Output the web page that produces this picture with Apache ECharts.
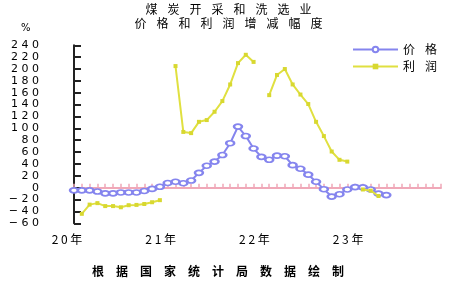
<!DOCTYPE html>
<html><head><meta charset="utf-8">
<script src="https://cdn.jsdelivr.net/npm/echarts@6/dist/echarts.min.js"></script>
<style>html,body{margin:0;padding:0;background:#fff}#c{width:470px;height:283px}</style>
</head><body><div id="c"></div>
<script>
const months = [
 '2020-01','2020-02','2020-03','2020-04','2020-05','2020-06','2020-07','2020-08','2020-09','2020-10','2020-11','2020-12',
 '2021-01','2021-02','2021-03','2021-04','2021-05','2021-06','2021-07','2021-08','2021-09','2021-10','2021-11','2021-12',
 '2022-01','2022-02','2022-03','2022-04','2022-05','2022-06','2022-07','2022-08','2022-09','2022-10','2022-11','2022-12',
 '2023-01','2023-02','2023-03','2023-04','2023-05','2023-06','2023-07','2023-08','2023-09','2023-10','2023-11','2023-12'];
const yearTicks = ['20年','21年','22年','23年'];
const price = [
 -4.5,-4.5,-4.5,-6.5,-9.5,-9.5,-8,-8,-8,-5.5,-2,1.5,
 8,10,7.5,12,25,37,44,55,75,103,87,66,
 52,47,54,53,38,32,22,10,-2.5,-15,-11,-3,
 1,0.5,-3,-10,-12.5];
const profit = [
 null,-44,-28.5,-26,-31,-31,-33,-29.5,-29,-27.5,-24.5,-21,
 null,205,94,92,111,114,128,146,174,210,224,212,
 null,156,190,200,174,157,141,111,87,61,47,44,
 null,-3,-5,-14];
const seriesNames = ['价格','利润'];
const titleLine1 = '煤炭开采和洗选业';
const titleLine2 = '价格和利润增减幅度';
const sourceText = '根据国家统计局数据绘制';

const CJK = 'Noto Sans CJK SC';
const sp = (s) => s.split('').join('{g|　}');
const Y_MIN = -60, Y_MAX = 240;
const GRID_TOP = 45.3, GRID_BOTTOM = 59.7, H = 283;
const plotH = H - GRID_TOP - GRID_BOTTOM;
const zeroFromBottom = H - (GRID_TOP + plotH * Y_MAX / (Y_MAX - Y_MIN));

const chart = echarts.init(document.getElementById('c'), null, {renderer:'canvas'});
chart.setOption({
  animation:false,
  backgroundColor:'#fff',
  title:[
    {text: sp(titleLine1), left:145.5, top:3, padding:0,
     textStyle:{fontSize:12, fontWeight:'normal', fontFamily:CJK, color:'#000', rich:{g:{fontSize:10}}}},
    {text: sp(titleLine2), left:134.5, top:17.5, padding:0,
     textStyle:{fontSize:12, fontWeight:'normal', fontFamily:CJK, color:'#000', rich:{g:{fontSize:10}}}},
    {text:'%', left:21, top:23, padding:0,
     textStyle:{fontSize:10, fontWeight:'normal', fontFamily:'DejaVu Sans', color:'#000'}},
    {text: sourceText.split('').join('{g|　}'), left:92, top:265, padding:0,
     textStyle:{fontSize:12, fontWeight:'bold', fontFamily:CJK, color:'#000', rich:{g:{fontSize:12}}}}
  ],
  legend:{
    orient:'vertical', left:352, top:43, padding:0,
    itemWidth:45, itemHeight:7, itemGap:4,
    data: seriesNames,
    formatter: n => sp(n),
    textStyle:{fontSize:12, fontFamily:CJK, color:'#000', lineHeight:13, rich:{g:{fontSize:10, lineHeight:13}}}
  },
  grid:[
    {left:74, right:29, top:GRID_TOP, bottom:GRID_BOTTOM, containLabel:false},
    {left:74, right:29, top:GRID_TOP, bottom:zeroFromBottom, containLabel:false}
  ],
  xAxis:[
    {type:'category', gridIndex:0, data:months, boundaryGap:false, position:'bottom',
     axisLine:{show:false, onZero:false}, axisTick:{show:false},
     axisLabel:{interval:(i)=> i%12===0, margin:10,
       formatter:(v,i)=> yearTicks[Math.floor(i/12)].split('').join(' '),
       fontSize:12, fontFamily:CJK, color:'#000', padding:[0,14,0,0]},
     splitLine:{show:false}},
    {type:'category', gridIndex:1, data:months, boundaryGap:false, position:'bottom',
     axisLine:{show:true, onZero:false, lineStyle:{color:'#f0a8b8', width:2}},
     axisTick:{show:true, inside:true, length:4, interval:0, lineStyle:{color:'#f0a8b8', width:1.5}},
     axisLabel:{show:false}, splitLine:{show:false}}
  ],
  yAxis:[
    {type:'value', gridIndex:0, min:Y_MIN, max:Y_MAX, interval:20,
    axisLine:{show:true, lineStyle:{color:'#222', width:2}},
    axisTick:{show:true, inside:true, length:7, lineStyle:{color:'#222', width:2}},
    axisLabel:{margin:35, fontSize:11, fontFamily:'DejaVu Sans', color:'#000',
      formatter:v=> String(v).replace('-', '−').split('').join(' ')},
    splitLine:{show:false}},
    {type:'value', gridIndex:1, min:0, max:Y_MAX, show:false}
  ],
  series:[
    {name:seriesNames[0], type:'line', data:price, xAxisIndex:0, yAxisIndex:0,
     symbol:'emptyCircle', symbolSize:[8,5], showAllSymbol:true,
     lineStyle:{color:'#8585ee', width:2},
     itemStyle:{color:'#8585ee', borderColor:'#8585ee', borderWidth:1}, z:3},
    {name:seriesNames[1], type:'line', data:profit, xAxisIndex:0, yAxisIndex:0,
     symbol:'rect', symbolSize:4, showAllSymbol:true, connectNulls:false,
     lineStyle:{color:'#e0e040', width:2},
     itemStyle:{color:'#d8d830'}, z:4}
  ]
});
</script></body></html>
